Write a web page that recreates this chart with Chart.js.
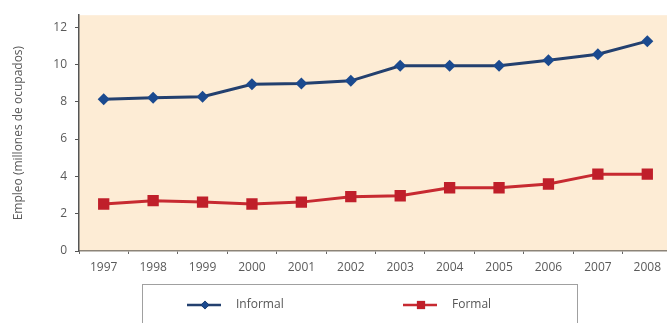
<!DOCTYPE html>
<html>
<head>
<meta charset="utf-8">
<script src="https://cdn.jsdelivr.net/npm/chart.js@4"></script>
<style>
  html, body { margin: 0; padding: 0; background: #fff; overflow: hidden; }
  #wrap { width: 680px; height: 323px; position: relative; }
</style>
</head>
<body>
<div id="wrap"><canvas id="chart1"></canvas></div>
<script>
const years = ["1997", "1998", "1999", "2000", "2001", "2002", "2003", "2004", "2005", "2006", "2007", "2008"];
const informal = [8.14, 8.21, 8.27, 8.94, 8.98, 9.12, 9.93, 9.93, 9.93, 10.23, 10.55, 11.25];
const formal = [2.52, 2.7, 2.62, 2.52, 2.62, 2.91, 2.96, 3.39, 3.39, 3.59, 4.12, 4.12];
const yTicks = [0, 2, 4, 6, 8, 10, 12];

// beige plot background
const plotBg = {
    id: 'plotBg',
    beforeDraw(chart) {
        const a = chart.chartArea;
        const ctx = chart.ctx;
        ctx.save();
        ctx.fillStyle = 'rgb(253, 236, 213)';
        ctx.fillRect(a.left, a.top, a.right - a.left, a.bottom - a.top);
        ctx.restore();
    }
};

// boxed legend under the axis
const boxLegend = {
    id: 'boxLegend',
    afterDraw(chart) {
        const ctx = chart.ctx;
        ctx.save();
        ctx.strokeStyle = '#a0a0a0';
        ctx.lineWidth = 1;
        ctx.strokeRect(142.5, 284.5, 435, 60);
        const xs = [187, 403];
        chart.data.datasets.forEach((ds, i) => {
            const x = xs[i], y = 305;
            ctx.strokeStyle = ds.borderColor;
            ctx.lineWidth = 2.5;
            ctx.beginPath();
            ctx.moveTo(x, y);
            ctx.lineTo(x + 34, y);
            ctx.stroke();
            Chart.helpers.drawPoint(ctx, {
                pointStyle: ds.pointStyle,
                radius: ds.pointRadius * 0.72,
                borderWidth: 0
            }, x + 18, y);
            ctx.fillStyle = ds.pointBackgroundColor;
            ctx.fill();
            ctx.fillStyle = '#555';
            ctx.font = '12px "Open Sans"';
            ctx.textBaseline = 'middle';
            ctx.fillText(ds.label, x + 49, y);
        });
        ctx.restore();
    }
};

const ctx = document.getElementById('chart1');
new Chart(ctx, {
    type: 'line',
    data: {
        labels: years,
        datasets: [{
            label: 'Informal',
            data: informal,
            borderColor: '#23406f',
            borderWidth: 3,
            pointStyle: 'rectRot',
            pointRadius: 6,
            pointBackgroundColor: '#1b4a8f',
            pointBorderColor: '#1b4a8f',
            pointBorderWidth: 0,
            tension: 0
        }, {
            label: 'Formal',
            data: formal,
            borderColor: '#c72a31',
            borderWidth: 3,
            pointStyle: 'rect',
            pointRadius: 8,
            pointBackgroundColor: '#c01f2a',
            pointBorderColor: '#c01f2a',
            pointBorderWidth: 0,
            tension: 0
        }]
    },
    options: {
        responsive: true,
        maintainAspectRatio: false,
        animation: { duration: 0 },
        layout: { padding: { top: 15, right: 5, left: 0, bottom: 0 } },
        plugins: {
            legend: { display: false },
            tooltip: { enabled: false }
        },
        scales: {
            x: {
                offset: true,
                afterFit(scale) { scale.height = 72; },
                grid: {
                    offset: true,
                    drawOnChartArea: false,
                    tickLength: 3,
                    color: '#666'
                },
                border: { color: '#8c8478', width: 1.5 },
                ticks: {
                    color: '#5a5a5a',
                    padding: 6,
                    maxRotation: 0,
                    font: { family: 'Open Sans', size: 12 }
                }
            },
            y: {
                min: 0,
                max: 12.64,
                afterBuildTicks(scale) {
                    scale.ticks = yTicks.map(v => ({ value: v }));
                },
                afterFit(scale) { scale.width = 79; },
                grid: {
                    drawOnChartArea: false,
                    tickLength: 4,
                    color: '#555'
                },
                border: { color: '#555', width: 1.5 },
                ticks: {
                    color: '#5a5a5a',
                    padding: 8,
                    font: { family: 'Open Sans', size: 12 }
                },
                title: {
                    display: true,
                    text: 'Empleo (millones de ocupados)',
                    color: '#5a5a5a',
                    padding: { top: 11, bottom: 0 },
                    font: { family: 'Open Sans', size: 12 }
                }
            }
        }
    },
    plugins: [plotBg, boxLegend]
});
</script>
</body>
</html>
